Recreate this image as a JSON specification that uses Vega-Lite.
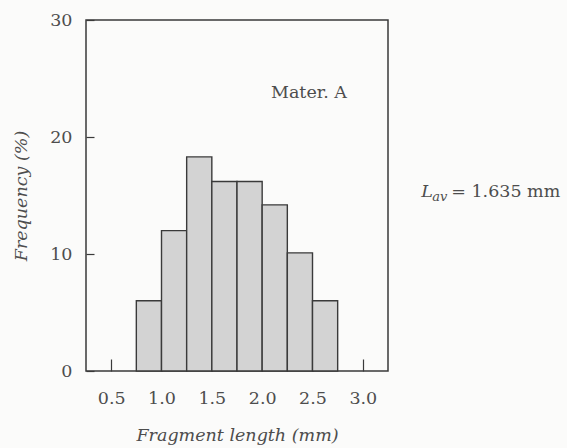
{
  "$schema": "https://vega.github.io/schema/vega-lite/v6.json",
  "autosize": {"type": "none"},
  "padding": {"left": 86, "top": 20, "right": 179, "bottom": 77},
  "width": 302,
  "height": 351,
  "background": "#fbfbfa",
  "config": {
    "font": "DejaVu Serif",
    "view": {"stroke": "#3a3a3a", "strokeWidth": 1.5},
    "axis": {
      "labelFont": "DejaVu Serif",
      "labelFontSize": 17.5,
      "labelColor": "#4d4d4d",
      "titleFont": "DejaVu Serif",
      "titleFontSize": 17.5,
      "titleFontStyle": "italic",
      "titleFontWeight": "normal",
      "titleColor": "#4d4d4d",
      "grid": false,
      "domain": false,
      "tickColor": "#3a3a3a",
      "tickWidth": 1.2
    }
  },
  "layer": [
    {
      "data": {"values": [
        {"bin_start": 0.75, "bin_end": 1.0, "freq": 6},
        {"bin_start": 1.0, "bin_end": 1.25, "freq": 12},
        {"bin_start": 1.25, "bin_end": 1.5, "freq": 18.3},
        {"bin_start": 1.5, "bin_end": 1.75, "freq": 16.2},
        {"bin_start": 1.75, "bin_end": 2.0, "freq": 16.2},
        {"bin_start": 2.0, "bin_end": 2.25, "freq": 14.2},
        {"bin_start": 2.25, "bin_end": 2.5, "freq": 10.1},
        {"bin_start": 2.5, "bin_end": 2.75, "freq": 6}
      ]},
      "mark": {"type": "bar", "fill": "#d3d3d3", "stroke": "#3a3a3a", "strokeWidth": 1.4},
      "encoding": {
        "x": {
          "field": "bin_start", "type": "quantitative",
          "scale": {"domain": [0.25, 3.25], "nice": false, "zero": false},
          "axis": {
            "values": [0.5, 1.0, 1.5, 2.0, 2.5, 3.0],
            "format": ".1f",
            "tickSize": -12,
            "labelPadding": 30,
            "title": "Fragment length (mm)",
            "titlePadding": 20
          }
        },
        "x2": {"field": "bin_end"},
        "y": {
          "field": "freq", "type": "quantitative",
          "scale": {"domain": [0, 30], "nice": false},
          "axis": {
            "values": [0, 10, 20, 30],
            "tickSize": -8,
            "labelPadding": 22,
            "title": "Frequency (%)",
            "titlePadding": 19
          }
        },
        "y2": {"datum": 0}
      }
    },
    {
      "data": {"values": [{"x": 2.465, "y": 23.76, "label": "Mater. A"}]},
      "mark": {"type": "text", "fontSize": 17.5, "color": "#4d4d4d", "align": "center", "baseline": "middle"},
      "encoding": {
        "x": {"field": "x", "type": "quantitative"},
        "y": {"field": "y", "type": "quantitative"},
        "text": {"field": "label"}
      }
    },
    {
      "data": {"values": [{"x": 3.58, "y": 15.3, "label": "L"}]},
      "mark": {"type": "text", "fontSize": 17.5, "fontStyle": "italic", "color": "#4d4d4d", "align": "left", "baseline": "middle", "clip": false},
      "encoding": {
        "x": {"field": "x", "type": "quantitative"},
        "y": {"field": "y", "type": "quantitative"},
        "text": {"field": "label"}
      }
    },
    {
      "data": {"values": [{"x": 3.58, "y": 15.3, "label": "av"}]},
      "mark": {"type": "text", "fontSize": 13, "fontStyle": "italic", "color": "#4d4d4d", "align": "left", "baseline": "middle", "dx": 11, "dy": 5, "clip": false},
      "encoding": {
        "x": {"field": "x", "type": "quantitative"},
        "y": {"field": "y", "type": "quantitative"},
        "text": {"field": "label"}
      }
    },
    {
      "data": {"values": [{"x": 3.58, "y": 15.3, "label": "= 1.635 mm"}]},
      "mark": {"type": "text", "fontSize": 17.5, "color": "#4d4d4d", "align": "left", "baseline": "middle", "dx": 30, "clip": false},
      "encoding": {
        "x": {"field": "x", "type": "quantitative"},
        "y": {"field": "y", "type": "quantitative"},
        "text": {"field": "label"}
      }
    }
  ]
}
